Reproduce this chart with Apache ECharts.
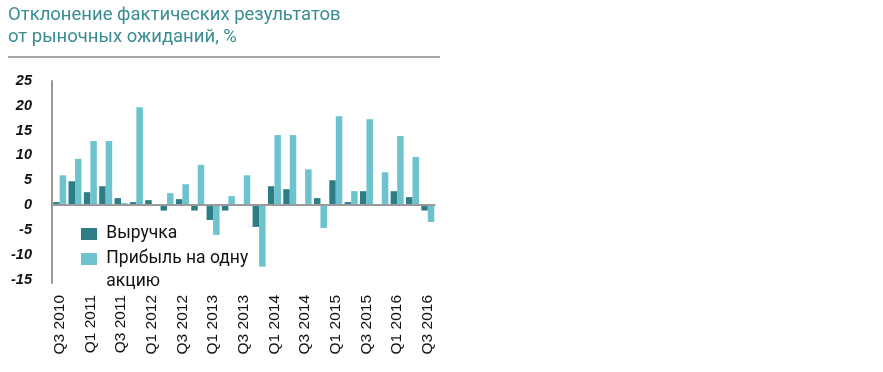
<!DOCTYPE html>
<html>
<head>
<meta charset="utf-8">
<script src="https://cdn.jsdelivr.net/npm/echarts@6/dist/echarts.min.js"></script>
<style>
html,body{margin:0;padding:0;background:#fff;}
#chart{width:883px;height:372px;}
</style>
</head>
<body>
<div id="chart"></div>
<script>
var titleText = 'Отклонение фактических результатов\nот рыночных ожиданий, %';
var categories = ['Q3 2010','Q4 2010','Q1 2011','Q2 2011','Q3 2011','Q4 2011','Q1 2012','Q2 2012','Q3 2012','Q4 2012','Q1 2013','Q2 2013','Q3 2013','Q4 2013','Q1 2014','Q2 2014','Q3 2014','Q4 2014','Q1 2015','Q2 2015','Q3 2015','Q4 2015','Q1 2016','Q2 2016','Q3 2016'];
var revenue = [0.6,4.8,2.6,3.8,1.4,0.6,1.0,-1.1,1.2,-1.1,-3.0,-1.1,0,-4.4,3.8,3.2,0,1.4,5.0,0.6,2.8,0,2.8,1.6,-1.1];
var eps = [6.0,9.3,12.9,12.9,0.4,19.7,0,2.4,4.2,8.1,-6.0,1.8,6.0,-12.4,14.1,14.1,7.2,-4.6,17.9,2.8,17.3,6.6,13.9,9.7,-3.4];
var yTicks = [-15,-10,-5,0,5,10,15,20,25];
var seriesNames = ['Выручка','Прибыль на одну акцию'];

var chart = echarts.init(document.getElementById('chart'), null, {renderer:'canvas'});
chart.setOption({
  animation:false,
  backgroundColor:'#ffffff',
  title:{
    text:titleText, left:8, top:4, padding:0,
    textStyle:{fontFamily:'Roboto', fontSize:18.5, fontWeight:'normal', color:'#3a8d92', lineHeight:22}
  },
  graphic:[{type:'line', shape:{x1:8,y1:57,x2:440,y2:57}, style:{stroke:'#a6a6a6', lineWidth:2}}],
  legend:{
    orient:'vertical', left:81, top:222.5, padding:0, itemGap:-21,
    itemWidth:16, itemHeight:12, icon:'rect', selectedMode:false,
    textStyle:{fontFamily:'Roboto', fontSize:17.5, color:'#111', lineHeight:23},
    formatter:function(n){ return n === seriesNames[1] ? ' \n Прибыль на одну\n акцию' : ' ' + n; },
    data:[{name:seriesNames[0]},{name:seriesNames[1]}]
  },
  grid:{left:52, top:81, width:383.5, height:202, containLabel:false},
  xAxis:{
    type:'category', data:categories,
    axisLine:{show:false, onZero:false},
    axisTick:{show:false},
    axisLabel:{interval:1, rotate:90, margin:12, fontFamily:'Liberation Sans', fontSize:15.5, color:'#111'}
  },
  yAxis:{
    type:'value', min:-15.7, max:25,
    axisLine:{show:true, lineStyle:{color:'#9a9a9a', width:2}},
    axisTick:{show:false},
    splitLine:{show:false},
    axisLabel:{customValues:yTicks, margin:20, fontFamily:'Liberation Sans', fontStyle:'italic', fontWeight:'bold', fontSize:14.5, color:'#111'}
  },
  series:[
    {name:seriesNames[0], type:'bar', data:revenue, barWidth:6.5, barGap:'0%', itemStyle:{color:'#2c7d86'},
     markLine:{silent:true, symbol:['none','none'], label:{show:false}, lineStyle:{color:'#9a9a9a', width:2, type:'solid'}, data:[{yAxis:0}]}},
    {name:seriesNames[1], type:'bar', data:eps, barWidth:6.5, barGap:'0%', itemStyle:{color:'#6cc3cd'}}
  ]
});
</script>
</body>
</html>
